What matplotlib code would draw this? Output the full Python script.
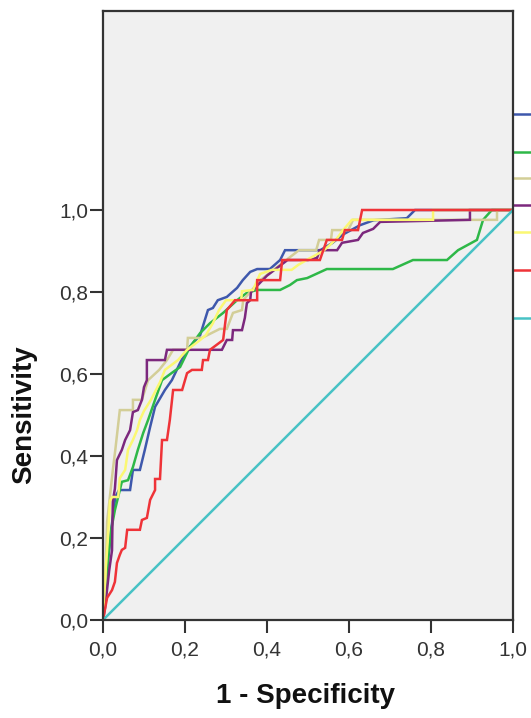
import matplotlib
matplotlib.use("Agg")
import matplotlib.pyplot as plt

plt.rcParams['font.family'] = ['Liberation Sans', 'DejaVu Sans']

# ROC curve vertices (1 - specificity, sensitivity)
blue_x = [0, 0, 0.01, 0.02, 0.03, 0.039, 0.066, 0.073, 0.09, 0.102, 0.115, 0.127, 0.151, 0.168, 0.188, 0.205, 0.237, 0.256, 0.268, 0.28, 0.302, 0.327, 0.341, 0.359, 0.376, 0.407, 0.432, 0.444, 0.53, 0.56, 0.585, 0.627, 0.66, 0.741, 0.761, 1.0]
blue_y = [0, 0.07, 0.12, 0.22, 0.3, 0.317, 0.317, 0.366, 0.366, 0.415, 0.471, 0.52, 0.561, 0.585, 0.627, 0.659, 0.695, 0.756, 0.761, 0.78, 0.788, 0.81, 0.829, 0.849, 0.856, 0.856, 0.878, 0.902, 0.902, 0.92, 0.94, 0.963, 0.975, 0.98, 1.0, 1.0]

green_x = [0, 0.005, 0.012, 0.02, 0.029, 0.046, 0.061, 0.073, 0.085, 0.098, 0.11, 0.127, 0.144, 0.171, 0.188, 0.212, 0.237, 0.261, 0.293, 0.327, 0.351, 0.376, 0.432, 0.456, 0.473, 0.498, 0.546, 0.707, 0.756, 0.839, 0.866, 0.912, 0.927, 0.944, 0.949, 1.0]
green_y = [0, 0.05, 0.15, 0.22, 0.268, 0.337, 0.341, 0.373, 0.415, 0.456, 0.488, 0.537, 0.585, 0.605, 0.617, 0.666, 0.7, 0.724, 0.749, 0.78, 0.798, 0.805, 0.805, 0.817, 0.829, 0.834, 0.856, 0.856, 0.878, 0.878, 0.902, 0.927, 0.976, 0.995, 1.0, 1.0]

tan_x = [0, 0.005, 0.01, 0.024, 0.03, 0.041, 0.073, 0.073, 0.095, 0.11, 0.137, 0.156, 0.171, 0.205, 0.207, 0.241, 0.285, 0.302, 0.317, 0.339, 0.342, 0.359, 0.385, 0.478, 0.52, 0.527, 0.556, 0.559, 0.598, 0.61, 0.961, 0.961, 1.0]
tan_y = [0, 0.07, 0.24, 0.366, 0.415, 0.512, 0.512, 0.537, 0.537, 0.585, 0.61, 0.634, 0.659, 0.659, 0.688, 0.688, 0.71, 0.71, 0.749, 0.756, 0.78, 0.8, 0.83, 0.902, 0.902, 0.927, 0.927, 0.951, 0.951, 0.976, 0.976, 1.0, 1.0]

purple_x = [0, 0.005, 0.015, 0.022, 0.024, 0.029, 0.034, 0.046, 0.054, 0.066, 0.073, 0.085, 0.095, 0.1, 0.107, 0.107, 0.151, 0.156, 0.29, 0.302, 0.315, 0.317, 0.339, 0.346, 0.351, 0.359, 0.361, 0.4, 0.45, 0.5, 0.522, 0.529, 0.571, 0.583, 0.622, 0.634, 0.659, 0.676, 0.895, 0.895, 1.0]
purple_y = [0, 0.03, 0.12, 0.17, 0.29, 0.32, 0.39, 0.415, 0.439, 0.463, 0.507, 0.512, 0.537, 0.568, 0.585, 0.634, 0.634, 0.659, 0.659, 0.683, 0.683, 0.707, 0.707, 0.737, 0.773, 0.78, 0.8, 0.84, 0.878, 0.878, 0.883, 0.902, 0.902, 0.92, 0.927, 0.944, 0.954, 0.971, 0.976, 1.0, 1.0]

yellow_x = [0, 0.005, 0.012, 0.017, 0.022, 0.037, 0.041, 0.054, 0.061, 0.073, 0.083, 0.09, 0.1, 0.117, 0.139, 0.151, 0.183, 0.205, 0.237, 0.251, 0.268, 0.283, 0.3, 0.337, 0.339, 0.366, 0.383, 0.412, 0.46, 0.476, 0.5, 0.537, 0.57, 0.585, 0.607, 0.805, 0.805, 1.0]
yellow_y = [0, 0.1, 0.2, 0.29, 0.3, 0.3, 0.346, 0.366, 0.415, 0.439, 0.463, 0.488, 0.51, 0.537, 0.58, 0.61, 0.634, 0.659, 0.683, 0.695, 0.724, 0.756, 0.78, 0.78, 0.802, 0.805, 0.844, 0.854, 0.854, 0.866, 0.88, 0.9, 0.93, 0.95, 0.976, 0.976, 1.0, 1.0]

red_x = [0, 0.01, 0.022, 0.029, 0.034, 0.041, 0.046, 0.054, 0.059, 0.09, 0.095, 0.107, 0.115, 0.127, 0.127, 0.139, 0.144, 0.156, 0.163, 0.171, 0.193, 0.205, 0.217, 0.241, 0.244, 0.256, 0.261, 0.293, 0.302, 0.322, 0.376, 0.376, 0.432, 0.437, 0.529, 0.546, 0.583, 0.59, 0.622, 0.632, 1.0]
red_y = [0, 0.054, 0.073, 0.093, 0.139, 0.159, 0.171, 0.176, 0.22, 0.22, 0.244, 0.249, 0.293, 0.317, 0.344, 0.344, 0.439, 0.439, 0.488, 0.561, 0.561, 0.602, 0.61, 0.61, 0.634, 0.634, 0.659, 0.683, 0.756, 0.78, 0.78, 0.829, 0.829, 0.878, 0.878, 0.927, 0.927, 0.951, 0.951, 1.0, 1.0]

ref_x = [0, 1]
ref_y = [0, 1]

curves = [
    (blue_x, blue_y, '#3E58AC'),
    (green_x, green_y, '#2EB848'),
    (tan_x, tan_y, '#D3CE97'),
    (purple_x, purple_y, '#7C287D'),
    (yellow_x, yellow_y, '#FBF873'),
    (red_x, red_y, '#EF3338'),
    (ref_x, ref_y, '#48C2C5'),
]
legend_y = [1.234, 1.141, 1.078, 1.012, 0.946, 0.854, 0.737]

ticks = [0.0, 0.2, 0.4, 0.6, 0.8, 1.0]
tick_labels = ['0,0', '0,2', '0,4', '0,6', '0,8', '1,0']

W, H = 531, 718
fig = plt.figure(figsize=(W / 100, H / 100), dpi=100)
ax = fig.add_axes([103 / W, (H - 620) / H, 410 / W, 609 / H])
ax.set_facecolor('#F0F0F0')

for (x, y, c), ly in zip(curves, legend_y):
    ax.plot(x, y, color=c, lw=1.8, solid_joinstyle='miter')
    ax.plot([1.0, 1.06], [ly, ly], color=c, lw=1.8, clip_on=False)

ax.set_xlim(0, 1)
ax.set_ylim(0, 609 / 410)
ax.set_xticks(ticks)
ax.set_xticklabels(tick_labels)
ax.set_yticks(ticks)
ax.set_yticklabels(tick_labels)
ax.tick_params(direction='out', length=9.5, width=1.5, color='#333333',
               labelsize=15, labelcolor='#333333')
ax.tick_params(axis='x', pad=5)
ax.tick_params(axis='y', pad=1)
for s in ax.spines.values():
    s.set_linewidth(1.6)
    s.set_color('#333333')

fig.text(306 / W, (H - 703) / H, '1 - Specificity', ha='center', va='baseline',
         fontsize=20, fontweight='bold', color='#111111')
fig.text(24 / W, (H - 415) / H, 'Sensitivity', ha='center', va='center',
         rotation=90, fontsize=20, fontweight='bold', color='#111111')

fig.savefig('out.png', dpi=100)
